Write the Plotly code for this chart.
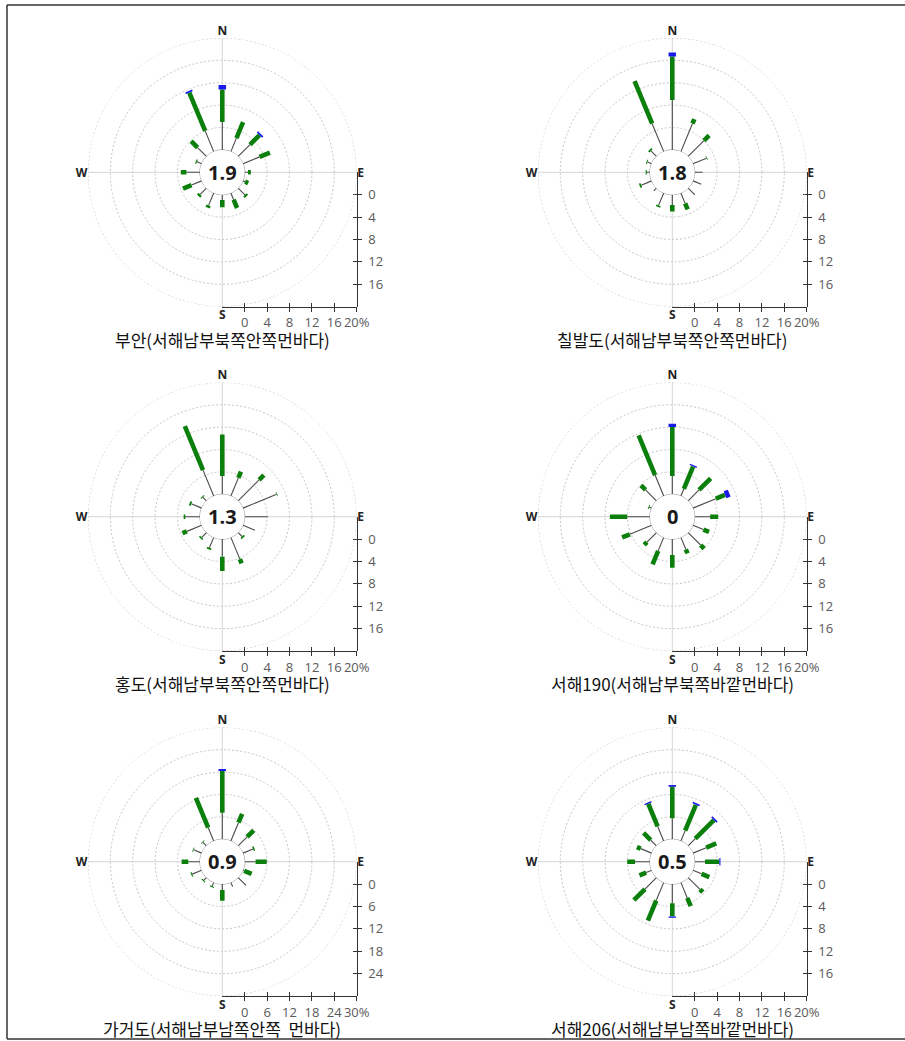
import plotly.graph_objects as go

# ---------------- data ----------------
directions = ["N", "NNE", "NE", "ENE", "E", "ESE", "SE", "SSE",
              "S", "SSW", "SW", "WSW", "W", "WNW", "NW", "NNW"]
dir_deg = [0, 22.5, 45, 67.5, 90, 112.5, 135, 157.5,
           180, 202.5, 225, 247.5, 270, 292.5, 315, 337.5]

stations = ["부안(서해남부북쪽안쪽먼바다)", "칠발도(서해남부북쪽안쪽먼바다)",
            "홍도(서해남부북쪽안쪽먼바다)", "서해190(서해남부북쪽바깥먼바다)",
            "가거도(서해남부남쪽안쪽  먼바다)", "서해206(서해남부남쪽바깥먼바다)"]
calm = ["1.9", "1.8", "1.3", "0", "0.9", "0.5"]
r_max = [20, 20, 20, 20, 30, 20]
r_step = [4, 4, 4, 4, 6, 4]

# frequency (%) per speed class: low (thin black), mid (green), high (blue)
buan_low = [5.0, 2.6, 3.0, 3.2, 0.6, 0.4, 1.7, 1.3, 0.95, 2.4, 1.6, 1.95, 2.4, 0.9, 2.25, 4.0]
buan_mid = [5.8, 3.1, 2.4, 2.0, 0.5, 0.6, 0.4, 1.6, 1.3, 0.45, 0.4, 1.65, 1.0, 0.2, 1.6, 7.4]
buan_high = [0.8, 0, 0.3, 0, 0, 0, 0, 0, 0, 0, 0, 0, 0, 0, 0, 0.3]

chil_low = [8.9, 5.4, 4.0, 2.6, 1.4, 1.6, 1.7, 2.0, 1.85, 2.4, 0.7, 2.0, 0.55, 0.8, 1.4, 5.4]
chil_mid = [7.8, 0.9, 1.3, 0.1, 0, 0, 0, 1.15, 1.15, 0.3, 0, 0.3, 0.2, 0.15, 0.3, 8.2]
chil_high = [0.7, 0, 0, 0, 0, 0, 0, 0, 0, 0, 0, 0, 0, 0, 0, 0]

hong_low = [3.25, 3.5, 5.3, 6.5, 4.1, 2.3, 1.0, 4.2, 3.15, 2.0, 1.2, 2.85, 2.6, 2.0, 0.9, 5.0]
hong_mid = [7.45, 1.2, 1.2, 0.1, 0, 0, 0.3, 0.8, 2.55, 0.3, 0.3, 0.85, 0.3, 0.3, 0.2, 8.5]
hong_high = [0, 0, 0, 0, 0, 0, 0, 0, 0, 0, 0, 0, 0, 0, 0, 0]

sh190_low = [3.25, 1.4, 2.75, 4.4, 2.75, 2.0, 3.15, 2.3, 2.85, 2.6, 2.4, 4.2, 4.05, 0.45, 2.75, 4.05]
sh190_mid = [8.75, 4.3, 2.95, 1.8, 1.45, 1.1, 0.9, 0.8, 2.25, 2.6, 0.7, 1.5, 3.1, 0.15, 1.15, 7.65]
sh190_high = [0.6, 0.25, 0, 0.8, 0, 0, 0, 0, 0, 0, 0, 0, 0, 0, 0, 0]

gageo_low = [7.1, 5.3, 3.4, 2.9, 2.9, 0.35, 3.0, 1.25, 1.6, 1.1, 1.0, 2.7, 3.1, 2.3, 1.3, 3.9]
gageo_mid = [11.2, 2.6, 2.5, 0.4, 3.0, 2.15, 0, 0, 2.85, 0.25, 0.3, 0.3, 1.8, 0.2, 0.2, 8.6]
gageo_high = [0.5, 0, 0, 0, 0, 0, 0, 0, 0, 0, 0, 0, 0, 0, 0, 0]

sh206_low = [3.75, 2.0, 1.8, 2.55, 1.85, 1.65, 3.0, 3.0, 3.4, 3.5, 2.9, 1.05, 2.65, 2.1, 1.45, 2.85]
sh206_mid = [5.65, 5.0, 4.7, 1.95, 2.55, 1.5, 0.7, 1.6, 2.4, 3.9, 2.8, 1.3, 1.4, 0.75, 1.8, 4.35]
sh206_high = [0.3, 0.3, 0.3, 0, 0.2, 0, 0, 0, 0.2, 0, 0, 0, 0, 0, 0, 0.25]

low_all = [buan_low, chil_low, hong_low, sh190_low, gageo_low, sh206_low]
mid_all = [buan_mid, chil_mid, hong_mid, sh190_mid, gageo_mid, sh206_mid]
high_all = [buan_high, chil_high, hong_high, sh190_high, gageo_high, sh206_high]

# ---------------- layout geometry ----------------
W, H = 905, 1041
col_cx = [222.3, 672.3]
row_cy = [172.3, 516.7, 861.7]
R = 134.4
HOLE = 1 / 6
GRID_DASH = "2px,2px"
GRID_COLOR = "#c6c6c6"

cls_style = [("#4a4a4a", 1.1), ("#0b7f0b", 4.6), ("#1a1aee", 7.5)]

fig = go.Figure()
layout = dict(width=W, height=H, autosize=False, margin=dict(l=0, r=0, t=0, b=0, autoexpand=False),
              paper_bgcolor="white", plot_bgcolor="rgba(0,0,0,0)",
              showlegend=False, annotations=[], shapes=[])

tick_font = dict(family="Open Sans, DejaVu Sans", size=13, color="#5a5a5a")
circle_theta = [k * 5 for k in range(73)]

for i in range(6):
    cx = col_cx[i % 2]
    cy = row_cy[i // 2]
    pk = "polar" if i == 0 else f"polar{i+1}"
    sub = pk
    rm = r_max[i]
    st = r_step[i]

    # outer dotted ring (max of radial scale)
    fig.add_trace(go.Scatterpolar(
        r=[rm] * 73, theta=circle_theta, mode="lines",
        line=dict(color=GRID_COLOR, width=1, dash=GRID_DASH), subplot=sub, hoverinfo="skip"))
    # calm circle
    fig.add_trace(go.Scatterpolar(
        r=[0] * 73, theta=circle_theta, mode="lines",
        line=dict(color="#9a9a9a", width=1), subplot=sub, hoverinfo="skip"))

    # stacked segments
    classes = [low_all[i], mid_all[i], high_all[i]]
    base = [0.0] * 16
    for c, vals in enumerate(classes):
        rr, tt = [], []
        for k in range(16):
            if vals[k] > 0:
                rr += [base[k], base[k] + vals[k], None]
                tt += [dir_deg[k], dir_deg[k], None]
            base[k] += vals[k]
        color, width = cls_style[c]
        fig.add_trace(go.Scatterpolar(
            r=rr, theta=tt, mode="lines", connectgaps=False,
            line=dict(color=color, width=width), subplot=sub, hoverinfo="skip"))

    layout[pk] = dict(
        domain=dict(x=[(cx - R) / W, (cx + R) / W], y=[1 - (cy + R) / H, 1 - (cy - R) / H]),
        hole=HOLE, bgcolor="rgba(0,0,0,0)",
        radialaxis=dict(range=[0, rm], tickmode="array",
                        tickvals=list(range(st, rm, st)),
                        showticklabels=False, ticks="", showline=False,
                        gridcolor=GRID_COLOR, griddash=GRID_DASH, gridwidth=1),
        angularaxis=dict(direction="clockwise", rotation=90, tickmode="array",
                         tickvals=[0, 90, 180, 270],
                         ticktext=["<b>N</b>", "<b>E</b>", "<b>S</b>", "<b>W</b>"],
                         ticks="", showline=False, gridcolor="#d6d6d6", gridwidth=1,
                         tickfont=dict(family="Open Sans, DejaVu Sans", size=12, color="#222")),
    )

    # custom radial scales (bottom and right)
    n = i + 1
    xa = "xaxis" if n == 1 else f"xaxis{n}"
    ya = "yaxis" if n == 1 else f"yaxis{n}"
    xref = "x" if n == 1 else f"x{n}"
    yref = "y" if n == 1 else f"y{n}"
    xa2 = f"xaxis{n+6}"
    ya2 = f"yaxis{n+6}"
    xref2 = f"x{n+6}"
    yref2 = f"y{n+6}"
    xt = list(range(0, rm + 1, st))
    xtt = [str(v) for v in xt[:-1]] + [f"{rm}%"]
    yt = list(range(0, rm, st))
    xdom = [cx / W, (cx + R) / W]
    ydom = [1 - (cy + R) / H, 1 - cy / H]
    common = dict(automargin=False, showgrid=False, zeroline=False, fixedrange=True,
                  tickmode="array", tickcolor="#333", ticklen=4)
    layout[xa] = dict(common, domain=xdom, range=[-st, rm], anchor="free", position=ydom[0],
                      tickvals=xt, ticktext=xtt, ticks="outside", tickangle=0,
                      showline=True, linecolor="#333", linewidth=1, tickfont=tick_font)
    layout[ya] = dict(common, domain=ydom, range=[rm, -st], anchor="free", position=xdom[1],
                      side="right", tickvals=yt, ticks="outside", showline=True,
                      linecolor="#333", linewidth=1, tickfont=tick_font, ticklabelstandoff=4)
    # inner halves of the crossing tick marks
    layout[xa2] = dict(common, domain=xdom, range=[-st, rm], anchor="free", position=ydom[0],
                       tickvals=xt, ticks="inside", showticklabels=False, showline=False)
    layout[ya2] = dict(common, domain=ydom, range=[rm, -st], anchor="free", position=xdom[1],
                       side="right", tickvals=yt, ticks="inside", showticklabels=False,
                       showline=False)
    fig.add_trace(go.Scatter(x=[None], y=[None], xaxis=xref, yaxis=yref, hoverinfo="skip"))
    fig.add_trace(go.Scatter(x=[None], y=[None], xaxis=xref2, yaxis=yref, hoverinfo="skip"))
    fig.add_trace(go.Scatter(x=[None], y=[None], xaxis=xref, yaxis=yref2, hoverinfo="skip"))

    # calm value in the centre
    layout["annotations"].append(dict(
        x=cx / W, y=1 - cy / H, xref="paper", yref="paper", text=f"<b>{calm[i]}</b>",
        showarrow=False, xanchor="center", yanchor="middle",
        font=dict(family="Open Sans, DejaVu Sans", size=20, color="#1a1a1a")))
    # station title
    layout["annotations"].append(dict(
        x=cx / W, y=1 - (cy + 167) / H, xref="paper", yref="paper", text=stations[i],
        showarrow=False, xanchor="center", yanchor="middle",
        font=dict(family="Noto Sans CJK KR", size=17, color="#111")))

# outer frame
frame = dict(type="line", xref="paper", yref="paper", line=dict(color="#333", width=1.5))
layout["shapes"] += [
    dict(frame, x0=7 / W, x1=1, y0=1 - 5 / H, y1=1 - 5 / H),
    dict(frame, x0=7 / W, x1=7 / W, y0=1 - 5 / H, y1=1 - 1039 / H),
    dict(frame, x0=7 / W, x1=1, y0=1 - 1039 / H, y1=1 - 1039 / H),
]

fig.update_layout(**layout)
fig.write_html("out.html", config={"displayModeBar": False, "responsive": False},
               post_script="document.body.style.margin='0';document.body.style.overflow='hidden';")
